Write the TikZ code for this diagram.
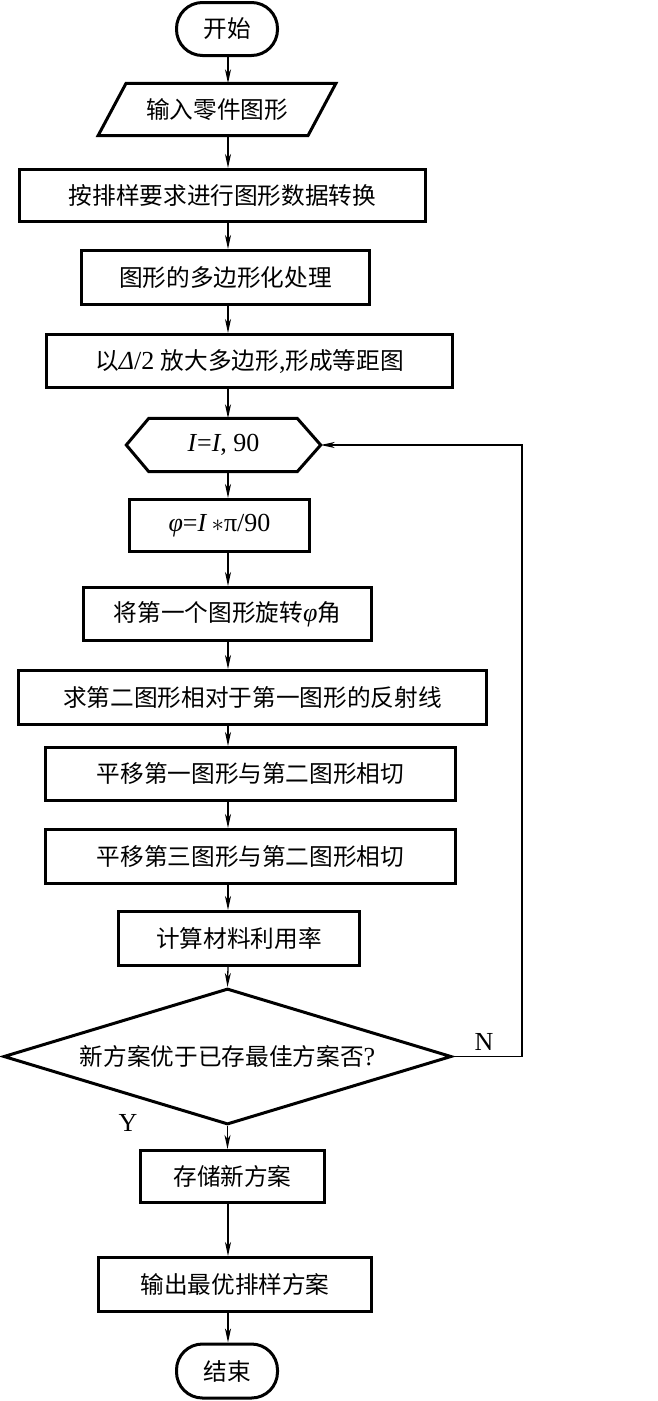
\documentclass[tikz,border=0pt]{standalone}
\usepackage{fontspec}
\setmainfont{Liberation Serif}
\newfontfamily\cjk{Noto Sans CJK SC}[Scale=0.91]
\usetikzlibrary{shapes.geometric,arrows.meta}
\newcommand\zh[1]{{\cjk #1}}
\begin{document}
\begin{tikzpicture}[x=1pt,y=-1pt,
  every node/.style={font=\fontsize{26}{30}\selectfont, inner sep=0pt},
  box/.style={draw, line width=3pt, rectangle, minimum height=53},
  term/.style={draw, line width=3pt, rectangle, rounded corners=26, minimum width=101, minimum height=53},
  shapeline/.style={line width=3pt, line join=miter},
  conn/.style={line width=1.3pt, -{Stealth[length=14pt,width=6pt,inset=4pt]}},
  lbl/.style={font=\fontsize{26}{30}\selectfont}
]
\useasboundingbox (0,0) rectangle (657,1401);
\coordinate (ax) at (228,0);
\coordinate (loopx) at (522,0);

\node[term] (start) at (227,29) {\zh{开始}};
\node[minimum width=209.5, minimum height=52] (inp) at (217,109.5) {\zh{输入零件图形}};
\draw[shapeline] ([xshift=14]inp.north west) -- ([xshift=14]inp.north east) -- ([xshift=-14]inp.south east) -- ([xshift=-14]inp.south west) -- cycle;
\node[box, minimum width=406, minimum height=52] (b1) at (222.5,195.5) {\zh{按排样要求进行图形数据转换}};
\node[box, minimum width=288, minimum height=54] (b2) at (225.5,277.5) {\zh{图形的多边形化处理}};
\node[box, minimum width=406] (b3) at (249.5,361) {\zh{以}\textit{Δ}/2 \zh{放大多边形},\zh{形成等距图}};
\node[minimum width=194, minimum height=53] (hex) at (223.5,445) {\textit{I}=\textit{I}, 90};
\draw[shapeline] (hex.west) -- ([xshift=22.5]hex.north west) -- ([xshift=-23.5]hex.north east) -- (hex.east) -- ([xshift=-23.5]hex.south east) -- ([xshift=22.5]hex.south west) -- cycle;
\node[box, minimum width=180, minimum height=52] (phi) at (219.5,525.5) {\textit{φ}=\textit{I}\,$\ast$π/90};
\node[box, minimum width=288] (b4) at (227.5,614) {\zh{将第一个图形旋转}\textit{φ}\zh{角}};
\node[box, minimum width=468, minimum height=54] (b5) at (252.5,697.5) {\zh{求第二图形相对于第一图形的反射线}};
\node[box, minimum width=410] (b6) at (250.5,774) {\zh{平移第一图形与第二图形相切}};
\node[box, minimum width=410, minimum height=54] (b7) at (250.5,856.5) {\zh{平移第三图形与第二图形相切}};
\node[box, minimum width=241, minimum height=54] (b8) at (239,938.5) {\zh{计算材料利用率}};
\node[diamond, draw, line width=3pt, aspect=3.24, minimum width=448, minimum height=136] (dec) at (227.5,1056.5) {\zh{新方案优于已存最佳方案否}?};
\node[box, minimum width=184, minimum height=52] (b9) at (232.5,1176.5) {\zh{存储新方案}};
\node[box, minimum width=273, minimum height=54] (b10) at (235,1284.5) {\zh{输出最优排样方案}};
\node[term, minimum height=54] (end) at (227,1371) {\zh{结束}};

\node[lbl] (nl) at (484,1042) {N};
\node[lbl] (yl) at (128,1123) {Y};

\draw[conn] (start.south -| ax) -- (inp.north -| ax);
\draw[conn] (inp.south -| ax) -- (b1.north -| ax);
\draw[conn] (b1.south -| ax) -- (b2.north -| ax);
\draw[conn] (b2.south -| ax) -- (b3.north -| ax);
\draw[conn] (b3.south -| ax) -- (hex.north -| ax);
\draw[conn] (hex.south -| ax) -- (phi.north -| ax);
\draw[conn] (phi.south -| ax) -- (b4.north -| ax);
\draw[conn] (b4.south -| ax) -- (b5.north -| ax);
\draw[conn] (b5.south -| ax) -- (b6.north -| ax);
\draw[conn] (b6.south -| ax) -- (b7.north -| ax);
\draw[conn] (b7.south -| ax) -- (b8.north -| ax);
\draw[conn] (b8.south -| ax) -- (dec.north);
\draw[conn] (dec.south) -- (b9.north -| dec.south);
\draw[conn] (b9.south -| ax) -- (b10.north -| ax);
\draw[conn] (b10.south -| ax) -- (end.north -| ax);
\draw[conn] (dec.east) -- (dec.east -| loopx) |- (hex.east);
\end{tikzpicture}
\end{document}
